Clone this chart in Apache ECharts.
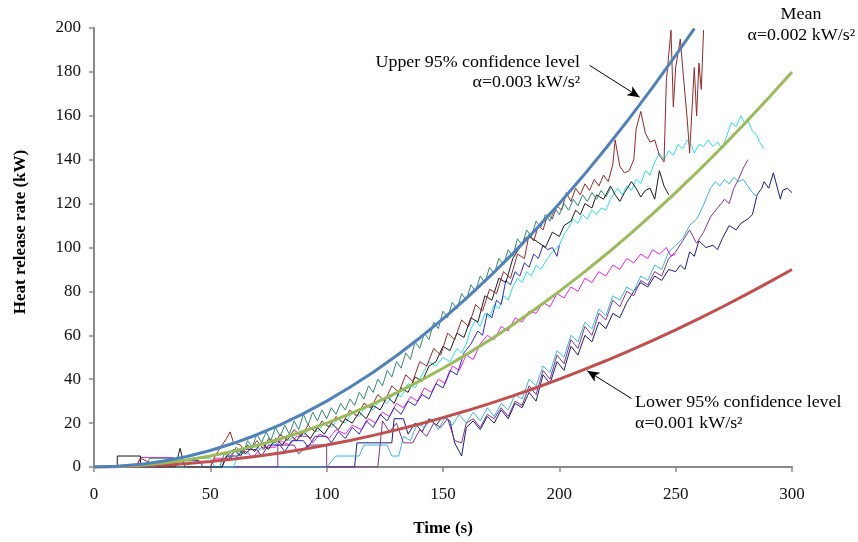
<!DOCTYPE html>
<html><head><meta charset="utf-8">
<script src="https://cdn.jsdelivr.net/npm/echarts@6/dist/echarts.min.js"></script>
<style>html,body{margin:0;padding:0;background:#fff}#c{width:858px;height:542px}</style>
</head><body><div id="c"></div>
<script>
// Axis ticks
const xTicks = [0, 50, 100, 150, 200, 250, 300];
const yTicks = [0, 20, 40, 60, 80, 100, 120, 140, 160, 180, 200];

// Fitted t-squared curves
const upperCurve = [[0,0],[10,0.3],[20,1.2],[30,2.7],[40,4.8],[50,7.5],[60,10.8],[70,14.7],[80,19.2],[90,24.3],[100,30],[110,36.3],[120,43.2],[130,50.7],[140,58.8],[150,67.5],[160,76.8],[170,86.7],[180,97.2],[190,108.3],[200,120],[210,132.3],[220,145.2],[230,158.7],[240,172.8],[250,187.5],[258,199.7]];
const meanCurve = [[0,0],[10,0.2],[20,0.8],[30,1.8],[40,3.2],[50,5],[60,7.2],[70,9.8],[80,12.8],[90,16.2],[100,20],[110,24.2],[120,28.8],[130,33.8],[140,39.2],[150,45],[160,51.2],[170,57.8],[180,64.8],[190,72.2],[200,80],[210,88.2],[220,96.8],[230,105.8],[240,115.2],[250,125],[260,135.2],[270,145.8],[280,156.8],[290,168.2],[300,180]];
const lowerCurve = [[0,0],[10,0.1],[20,0.4],[30,0.9],[40,1.6],[50,2.5],[60,3.6],[70,4.9],[80,6.4],[90,8.1],[100,10],[110,12.1],[120,14.4],[130,16.9],[140,19.6],[150,22.5],[160,25.6],[170,28.9],[180,32.4],[190,36.1],[200,40],[210,44.1],[220,48.4],[230,52.9],[240,57.6],[250,62.5],[260,67.6],[270,72.9],[280,78.4],[290,84.1],[300,90]];

// Measured traces
const tealTrace = [[0,0],[22,0],[24,4],[34,4],[36,0],[54,0],[56,6],[59,4],[61,9],[64,6],[66,12],[68,9],[70,15],[72,11],[74,16],[76,12],[78,18],[80,14],[82,19],[84,15],[86,21],[88,17],[90,24],[92,19],[94,25],[96,21],[98,26],[100,22],[102,27],[104,24],[106,29],[108,26],[110,31],[112,28],[114,34],[116,31],[118,37],[120,34],[122,40],[124,37],[126,44],[128,41],[130,48],[132,45],[134,52],[136,49],[138,57],[140,54],[142,61],[144,58],[146,66],[148,63],[150,71],[152,68],[154,75],[156,72],[158,79],[160,76],[162,83],[164,80],[166,87],[168,84],[170,91],[172,88],[174,95],[176,92],[178,99],[180,96],[182,104],[184,101],[186,108],[188,105],[190,112],[192,109],[194,115],[196,112],[198,118],[200,115],[202,120],[204,117],[206,122],[208,119],[210,124],[212,121],[214,125],[216,122],[218,126],[220,123],[222,127]];
const brownTrace = [[0,0],[18,0],[20,4],[24,2],[26,0],[50,0],[52,5],[55,10],[57,13],[58.5,16],[60,11],[63,10],[65,6],[68,9],[70,12],[73,8],[75,13],[78,11],[80,15],[83,12],[86,17],[89,14],[92,19],[95,16],[98,21],[101,18],[104,23],[107,20],[110,26],[113,23],[116,29],[119,27],[122,33],[125,30],[128,37],[131,34],[134,42],[137,39],[140,48],[143,46],[146,54],[149,51],[152,61],[155,58],[158,67],[161,64],[164,74],[167,71],[170,81],[173,79],[176,89],[179,86],[182,97],[185,95],[187,106],[189,103],[191,110],[193,108],[195,115],[197,113],[199,119],[201,117],[203,125],[205,121],[207,127],[209,124],[211,129],[213,126],[215,131],[217,128],[219,133],[221,130],[223,138],[224,149],[226,137],[228,134],[230,135],[232,140],[233,154],[235,162],[237,152],[239,148],[241,149],[243,142],[245,139],[246,176],[248,199],[249,164],[250,182],[252,195],[253,182],[255,158],[256,143],[258,182],[259,160],[260,184],[261,172],[262,199]];
const blackTrace = [[0,0],[10,0],[10,5],[20,5],[20,0],[35,0],[37,8.5],[39,0],[55,0],[57,5],[60,8],[63,5],[66,10],[69,7],[72,11],[75,8],[78,13],[81,10],[84,15],[87,12],[90,16],[93,13],[96,18],[99,15],[102,20],[105,17],[108,22],[111,20],[114,25],[117,22],[120,28],[123,26],[126,32],[129,29],[132,36],[135,34],[138,41],[141,39],[144,46],[147,48],[150,55],[153,53],[156,61],[159,59],[162,68],[165,66],[168,78],[171,76],[174,86],[177,84],[180,95],[183,100],[185,104],[187,105],[190,103],[194,100],[197,107],[200,105],[202,110],[205,112],[207,117],[209,115],[211,120],[214,118],[216,124],[219,122],[222,128],[224,124],[226,121],[228,125],[231,130],[233,127],[235,123],[237,126],[239,127],[241,122],[243,135],[245,128],[247,124]];
const blueTrace = [[0,0],[30,0],[32,3],[45,3],[47,0],[55,0],[57,5],[62,5],[64,8],[70,8],[72,5],[75,10],[80,10],[82,7],[85,12],[90,12],[92,9],[95,14],[100,14],[102,11],[105,16],[108,13],[111,18],[114,15],[117,21],[120,18],[123,24],[126,21],[129,27],[132,24],[135,30],[138,28],[141,33],[144,31],[147,38],[150,36],[153,44],[156,42],[159,52],[162,56],[165,62],[167,60],[169,70],[171,68],[173,76],[175,74],[177,85],[179,83],[181,89],[183,87],[185,93],[187,91],[189,97],[191,95],[193,101],[195,99],[197,100],[199,96],[200,101]];
const cyanTrace = [[0,0],[40,0],[42,4],[50,4],[52,0],[60,0],[62,6],[66,6],[68,10],[72,8],[75,12],[78,10],[81,14],[84,12],[87,16],[90,14],[93,18],[96,16],[99,20],[102,18],[105,22],[108,20],[111,25],[114,23],[117,28],[120,26],[123,31],[126,29],[129,34],[132,32],[135,38],[138,36],[141,42],[144,48],[147,46],[150,50],[153,48],[156,54],[158,52],[160,56],[162,63],[164,67],[166,64],[168,70],[170,68],[172,74],[174,72],[176,78],[178,76],[180,82],[182,86],[184,84],[186,89],[188,87],[190,92],[192,90],[195,95],[197,98],[200,101],[202,106],[204,109],[206,113],[208,111],[210,115],[212,113],[214,117],[216,115],[218,118],[220,117],[222,122],[225,127],[227,124],[229,128],[231,126],[233,131],[235,129],[237,135],[239,133],[241,139],[243,143],[245,140],[247,144],[249,142],[251,147],[253,145],[255,149],[257,146],[258,143],[260,147],[262,146],[264,149],[266,146],[268,148],[270,145],[272,151],[274,157],[276,155],[278,160],[280,156],[281,158],[283,153],[285,151],[286,148],[288,145]];
const magentaTrace = [[0,0],[18,0],[20,4.3],[34,4.3],[36,0],[50,0],[52,4],[58,4],[60,7],[66,7],[68,4],[72,9],[78,9],[80,12],[84,10],[87,14],[92,14],[94,11],[97,15],[101,13],[104,17],[108,15],[111,19],[115,17],[118,22],[121,20],[124,25],[127,23],[130,29],[133,27],[136,32],[139,30],[142,36],[145,34],[148,40],[151,38],[154,46],[157,44],[160,51],[163,49],[166,56],[169,60],[172,58],[175,64],[178,62],[181,68],[184,66],[187,71],[190,70],[193,75],[196,73],[199,79],[202,77],[205,82],[208,80],[211,86],[214,84],[217,89],[220,87],[223,92],[226,90],[229,95],[232,93],[235,97],[238,95],[240,99],[243,97],[246,100],[248,96],[250,97]];
const purpleTrace = [[0,0],[79,0],[79,10],[86,10],[88,6],[92,10],[100,10],[100,0],[122,0],[124,21],[127,16],[130,20],[133,11],[137,11],[140,17],[143,14],[146,20],[149,18],[152,22],[155,12],[158,11],[160,20],[163,22],[166,18],[169,24],[172,22],[175,27],[178,23],[181,30],[184,28],[187,37],[190,33],[193,44],[196,40],[199,51],[202,47],[205,58],[208,54],[211,64],[214,60],[217,70],[220,67],[223,76],[226,73],[229,80],[232,78],[235,85],[238,83],[241,89],[244,87],[247,95],[250,98],[253,103],[256,108],[259,102],[262,107],[265,114],[268,118],[271,122],[273,120],[275,127],[277,131],[279,136],[281,140]];
const skyTrace = [[0,0],[100,0],[104,5],[114,5],[116,10],[126,10],[128,5],[131,5],[133,14],[136,12],[139,20],[142,18],[145,22],[148,17],[151,23],[154,19],[157,24],[160,20],[163,25],[166,21],[169,27],[172,23],[175,29],[178,26],[181,33],[184,31],[187,40],[190,37],[193,46],[196,43],[199,53],[202,50],[205,60],[208,57],[211,66],[214,63],[217,72],[220,69],[223,78],[226,76],[229,82],[232,80],[235,87],[238,85],[241,92],[244,90],[247,98],[250,101],[253,104],[256,110],[259,113],[261,117],[263,122],[265,127],[267,130],[269,128],[271,131],[273,129],[275,132],[277,130],[279,131],[281,128],[283,125],[285,123]];
const navyTrace = [[0,0],[112,0],[113,11],[128,11],[129,22],[133,22],[135,15],[138,20],[141,16],[144,22],[147,19],[150,23],[153,21],[155,11],[158,5],[160,18],[163,21],[166,17],[169,23],[172,20],[175,26],[178,22],[181,29],[184,27],[187,34],[190,30],[193,42],[196,38],[199,48],[202,44],[205,55],[208,51],[211,60],[214,57],[217,66],[220,63],[223,70],[226,68],[229,75],[232,80],[235,84],[238,82],[241,87],[244,85],[247,90],[250,89],[252,92],[254,90],[256,98],[258,96],[260,103],[263,100],[266,101],[268,99],[270,104],[273,110],[276,108],[278,111],[281,113],[283,115],[285,124],[287,127],[288,130],[290,127],[292,134],[293,130],[295,122],[296,126],[298,127],[300,125]];

// Annotation arrows (data coordinates)
const upperArrow = [[213, 183], [234.5, 168.5]];
const lowerArrow = [[231, 31.2], [212, 43.8]];

const SERIF = '"Liberation Serif", "Times New Roman", serif';
const chart = echarts.init(document.getElementById('c'), null, {renderer: 'canvas'});

function trace(data, color) {
  return {type: 'line', data: data, showSymbol: false, symbol: 'none', animation: false,
    lineStyle: {width: 1, color: color}, itemStyle: {color: color}, z: 2, silent: true};
}
function curve(data, color) {
  return {type: 'line', data: data, showSymbol: false, symbol: 'none', animation: false,
    lineStyle: {width: 3, color: color}, itemStyle: {color: color}, z: 5, silent: true};
}
function arrow(pts) {
  return {type: 'line', data: [], z: 6, silent: true, animation: false,
    markLine: {silent: true, animation: false, symbol: ['none', 'arrow'], symbolSize: [8, 12],
      label: {show: false}, lineStyle: {color: '#000', width: 1, type: 'solid'},
      data: [[{coord: pts[0]}, {coord: pts[1]}]]}};
}
function label(text, x, y, align) {
  return {type: 'text', silent: true, x: x, y: y, scaleX: 1.12, originX: 0, originY: 0,
    style: {text: text, font: '16px ' + SERIF, fill: '#000', textAlign: align, textVerticalAlign: 'middle'}};
}

chart.setOption({
  backgroundColor: '#ffffff',
  animation: false,
  grid: {left: 94, right: 66, top: 28, bottom: 71},
  xAxis: {
    type: 'value', min: xTicks[0], max: xTicks[xTicks.length - 1], interval: 50,
    name: 'Time (s)', nameLocation: 'middle', nameGap: 53,
    nameTextStyle: {fontFamily: SERIF, fontWeight: 'bold', fontSize: 17, color: '#000'},
    axisLine: {show: true, onZero: false, lineStyle: {color: '#8a8a8a', width: 2}},
    axisTick: {show: true, inside: false, length: 5, lineStyle: {color: '#8a8a8a', width: 1.5}},
    axisLabel: {fontFamily: SERIF, fontSize: 17, color: '#111', margin: 19},
    splitLine: {show: false}
  },
  yAxis: {
    type: 'value', min: yTicks[0], max: yTicks[yTicks.length - 1], interval: 20,
    axisLine: {show: true, onZero: false, lineStyle: {color: '#8a8a8a', width: 2}},
    axisTick: {show: true, inside: false, length: 5, lineStyle: {color: '#8a8a8a', width: 1.5}},
    axisLabel: {fontFamily: SERIF, fontSize: 17, color: '#111', margin: 13},
    splitLine: {show: false}
  },
  series: [
    trace(navyTrace, '#1b1b7e'),
    trace(skyTrace, '#3bb6e2'),
    trace(purpleTrace, '#85348a'),
    trace(magentaTrace, '#f01ee8'),
    trace(cyanTrace, '#27e3df'),
    trace(blueTrace, '#2a2ad2'),
    trace(blackTrace, '#1a1a1a'),
    trace(brownTrace, '#962828'),
    trace(tealTrace, '#2f8a74'),
    curve(lowerCurve, '#c0504d'),
    curve(meanCurve, '#9bbb59'),
    curve(upperCurve, '#4f81bd'),
    arrow(upperArrow),
    arrow(lowerArrow)
  ],
  graphic: [
    {type: 'text', silent: true, x: 21, y: 232, rotation: Math.PI / 2,
      style: {text: 'Heat release rate (kW)', font: 'bold 17px ' + SERIF, fill: '#000', textAlign: 'center', textVerticalAlign: 'middle'}},
    label('Upper 95% confidence level', 580, 63, 'right'),
    label('α=0.003 kW/s²', 580, 83, 'right'),
    label('Mean', 801, 15, 'center'),
    label('α=0.002 kW/s²', 855, 36, 'right'),
    label('Lower 95% confidence level', 635, 403, 'left'),
    label('α=0.001 kW/s²', 635, 424, 'left')
  ]
});
</script>
</body></html>
